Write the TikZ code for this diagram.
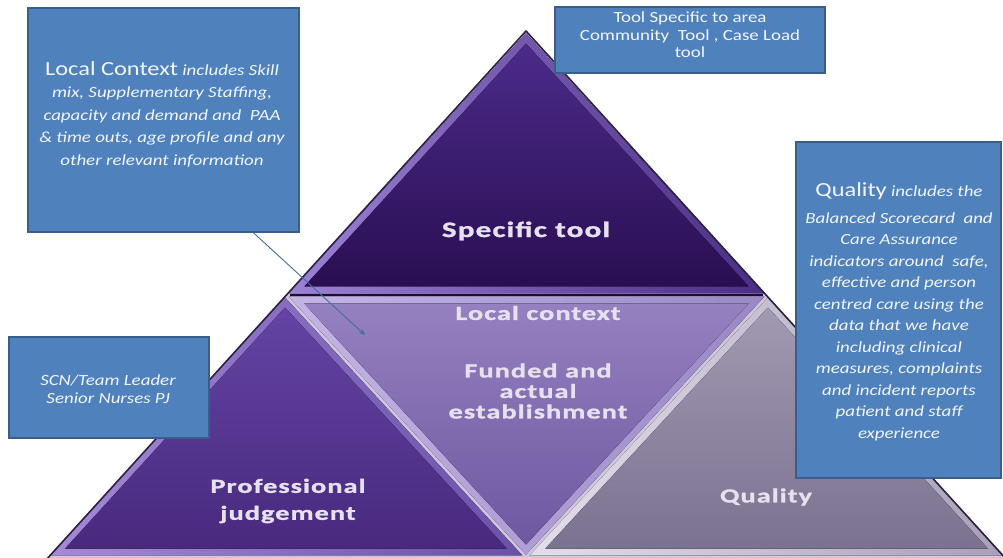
\documentclass[tikz,border=0pt]{standalone}
\usepackage{fontspec}
\setmainfont{Carlito}
\newfontfamily\trifont{Carlito}[LetterSpace=5,FakeStretch=1.42,FakeBold=1.2]
\newfontfamily\boxfont{Carlito}[FakeStretch=1.22]
\usetikzlibrary{arrows.meta,calc}
\definecolor{boxblue}{HTML}{4F81BD}
\definecolor{boxedge}{HTML}{3A5E8C}
\definecolor{boxtxt}{HTML}{F2F5FB}
\definecolor{gapcol}{HTML}{CFC7DE}
\definecolor{outline}{HTML}{2C2040}
\definecolor{tritxt}{HTML}{E6E1EE}
\definecolor{topbevL}{HTML}{9C82D6}
\definecolor{topbevR}{HTML}{4A2D85}
\definecolor{topT}{HTML}{4B2B8A}
\definecolor{topB}{HTML}{2A0E52}
\definecolor{lftbevL}{HTML}{A58AD8}
\definecolor{lftbevR}{HTML}{6A50A8}
\definecolor{lftT}{HTML}{6444A4}
\definecolor{lftB}{HTML}{48297E}
\definecolor{midbevL}{HTML}{C4B4E6}
\definecolor{midbevR}{HTML}{9A88C6}
\definecolor{midT}{HTML}{9580C0}
\definecolor{midB}{HTML}{6E58A0}
\definecolor{rgtbevL}{HTML}{E2DEEA}
\definecolor{rgtbevR}{HTML}{A8A0B8}
\definecolor{rgtT}{HTML}{A29AB2}
\definecolor{rgtB}{HTML}{7A7290}
\definecolor{darkline}{HTML}{1E0A3C}
\tikzset{
  callout/.style={draw=boxedge, line width=1.4pt, fill=boxblue, inner sep=0pt},
  callouttext/.style={text=boxtxt, align=center, inner sep=0pt},
  trilabel/.style={text=tritxt, align=center, inner sep=0pt},
  pointer/.style={draw=boxblue!85!black, line width=0.9pt, -{Stealth[length=6pt,width=5pt]}}
}
\begin{document}
\begin{tikzpicture}[x=1pt,y=-1pt]
\useasboundingbox (0,0) rectangle (1003,557);
\fill[white] (0,0) rectangle (1003,557);
\begin{scope}
\clip (0,0) rectangle (1003,557);
% whole pyramid (gap colour)
\fill[gapcol] (46,560) -- (526,31) -- (1007,560) -- cycle;
% top piece
\fill[left color=topbevL, right color=topbevR, scale around={0.985:(526,188.6)}]
  (526,31) -- (285,295) -- (768,295) -- cycle;
\fill[top color=topT, bottom color=topB, scale around={0.92:(526,188.6)}]
  (526,31) -- (285,295) -- (768,295) -- cycle;
% left piece
\fill[left color=lftbevL, right color=lftbevR, scale around={0.985:(285.3,451.4)}]
  (285,295) -- (46,557) -- (526,557) -- cycle;
\fill[top color=lftT, bottom color=lftB, scale around={0.92:(285.3,451.4)}]
  (285,295) -- (46,557) -- (526,557) -- cycle;
% middle piece
\fill[left color=midbevL, right color=midbevR, scale around={0.985:(526.2,400.8)}]
  (285,295) -- (768,295) -- (526,557) -- cycle;
\fill[top color=midT, bottom color=midB, scale around={0.92:(526.2,400.8)}]
  (285,295) -- (768,295) -- (526,557) -- cycle;
% right piece
\fill[left color=rgtbevL, right color=rgtbevR, scale around={0.985:(767.5,451.4)}]
  (768,295) -- (526,557) -- (1007,557) -- cycle;
\fill[top color=rgtT, bottom color=rgtB, scale around={0.92:(767.5,451.4)}]
  (768,295) -- (526,557) -- (1007,557) -- cycle;
% outline
\draw[outline, line width=1.6pt, line join=round] (46,560) -- (526,31) -- (1007,560);
\draw[darkline, line width=1.6pt] (290,295) -- (763,295);
\end{scope}

% triangle labels
\node[trilabel, font=\trifont\bfseries\fontsize{22}{24}\selectfont] (spec) at (526,231) {Specific tool};
\node[trilabel, font=\trifont\bfseries\fontsize{20}{21}\selectfont] (local) at (538,313) {Local context};
\node[trilabel, font=\trifont\bfseries\fontsize{20}{20.5}\selectfont] (fund) at (538,391) {Funded and\\actual\\establishment};
\node[trilabel, font=\trifont\bfseries\fontsize{20}{27}\selectfont] (prof) at (288,501) {Professional\\judgement};
\node[trilabel, font=\trifont\bfseries\fontsize{20}{22}\selectfont] (qual) at (766,497) {Quality};

% callout boxes
\node[callout, minimum width=271pt, minimum height=224pt] (lc) at (163.5,120) {};
\node[callouttext, font=\boxfont\itshape\fontsize{15.5}{22.5}\selectfont] (lctext) at (162,114)
  {{\upshape\fontsize{20}{22}\selectfont Local Context} includes Skill\\
   mix, Supplementary Staffing,\\
   capacity and demand and\ \ PAA\\
   \& time outs, age profile and any\\
   other relevant information};

\node[callout, minimum width=270pt, minimum height=66pt] (ts) at (690,40) {};
\node[callouttext, font=\boxfont\fontsize{15.5}{17.5}\selectfont] (tstext) at (690,35)
  {Tool Specific to area\\Community\ \ Tool , Case Load\\tool};

\node[callout, minimum width=205pt, minimum height=336pt] (qb) at (898.5,310) {};
\node[callouttext, font=\boxfont\itshape\fontsize{15.5}{21.5}\selectfont] (qbtext) at (899,312)
  {{\upshape\fontsize{20}{22}\selectfont Quality} includes the\\[5pt]
   Balanced Scorecard\ \ and\\
   Care Assurance\\
   indicators around\ \ safe,\\
   effective and person\\
   centred care using the\\
   data that we have\\
   including clinical\\
   measures, complaints\\
   and incident reports\\
   patient and staff\\
   experience};

\node[callout, minimum width=200pt, minimum height=101pt] (pj) at (109,387.5) {};
\node[callouttext, font=\boxfont\itshape\fontsize{15.5}{18.5}\selectfont] (pjtext) at (108,389)
  {SCN/Team Leader\\Senior Nurses PJ};

% pointer
\coordinate (lctip) at (365,335);
\draw[pointer] ($(lc.south west)!0.83!(lc.south east)$) -- (lctip);
\end{tikzpicture}
\end{document}
